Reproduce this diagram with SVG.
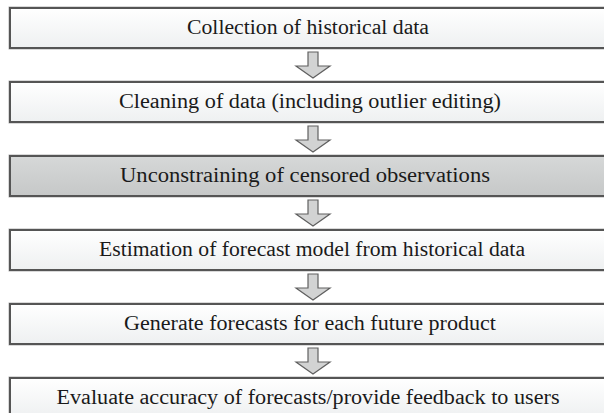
<svg xmlns="http://www.w3.org/2000/svg" width="604" height="413" viewBox="0 0 604 413">
<defs>
<linearGradient id="gw" x1="0" y1="0" x2="0" y2="1">
<stop offset="0" stop-color="#ffffff"/>
<stop offset="1" stop-color="#eef0f1"/>
</linearGradient>
<linearGradient id="gg" x1="0" y1="0" x2="0" y2="1">
<stop offset="0" stop-color="#d6d8d8"/>
<stop offset="1" stop-color="#c6c8c8"/>
</linearGradient>
<path id="arr" d="M308,0 H318 V14 H330 L313,26 L296,14 H308 Z"/>
</defs>
<style>
.box{fill:url(#gw);stroke:#555;stroke-width:2}
.box.g{fill:url(#gg)}
.halo{fill:none;stroke:#b4b4b4;stroke-width:1}
.t{font-family:"Liberation Serif","DejaVu Serif",serif;font-size:20px;fill:#1a1a1a;text-anchor:middle}
.a{fill:#d2d3d3;stroke:#606060;stroke-width:1.2;stroke-linejoin:miter}
</style>
<rect width="604" height="413" fill="#ffffff"/>
<g id="n1">
<rect class="halo" x="9" y="7" width="602" height="42"/>
<rect class="box" x="10" y="8" width="600" height="40"/>
<text class="t" x="308" y="34" textLength="242" lengthAdjust="spacingAndGlyphs">Collection of historical data</text>
</g>
<g id="n2">
<rect class="halo" x="9" y="81" width="602" height="42"/>
<rect class="box" x="10" y="82" width="600" height="40"/>
<text class="t" x="310" y="108" textLength="382" lengthAdjust="spacingAndGlyphs">Cleaning of data (including outlier editing)</text>
</g>
<g id="n3">
<rect class="halo" x="9" y="155" width="602" height="42"/>
<rect class="box g" x="10" y="156" width="600" height="40"/>
<text class="t" x="305" y="182" textLength="370" lengthAdjust="spacingAndGlyphs">Unconstraining of censored observations</text>
</g>
<g id="n4">
<rect class="halo" x="9" y="229" width="602" height="42"/>
<rect class="box" x="10" y="230" width="600" height="40"/>
<text class="t" x="312" y="256" textLength="426" lengthAdjust="spacingAndGlyphs">Estimation of forecast model from historical data</text>
</g>
<g id="n5">
<rect class="halo" x="9" y="303" width="602" height="42"/>
<rect class="box" x="10" y="304" width="600" height="40"/>
<text class="t" x="310" y="330" textLength="372" lengthAdjust="spacingAndGlyphs">Generate forecasts for each future product</text>
</g>
<g id="n6">
<rect class="halo" x="9" y="377" width="602" height="42"/>
<rect class="box" x="10" y="378" width="600" height="40"/>
<text class="t" x="308" y="404" textLength="503" lengthAdjust="spacingAndGlyphs">Evaluate accuracy of forecasts/provide feedback to users</text>
</g>
<g id="connectors">
<use href="#arr" class="a" y="52"/>
<use href="#arr" class="a" y="126"/>
<use href="#arr" class="a" y="200"/>
<use href="#arr" class="a" y="274"/>
<use href="#arr" class="a" y="348"/>
</g>
</svg>
